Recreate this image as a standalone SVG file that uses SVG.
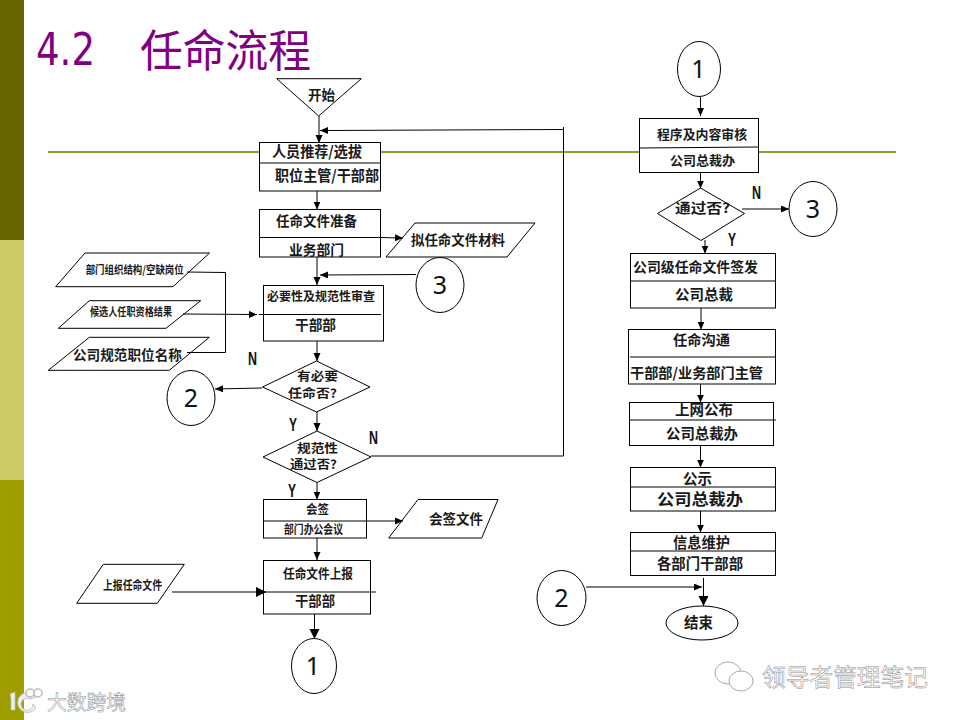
<svg xmlns="http://www.w3.org/2000/svg" width="960" height="720" viewBox="0 0 960 720">
<style>
.s{fill:#fff;stroke:#000;stroke-width:1}
.n{fill:none;stroke:#000;stroke-width:1}
.t{font-family:"Noto Sans CJK SC","Noto Sans",sans-serif;font-weight:700;fill:#1a1a1a;text-anchor:start}
.c{font-family:"Noto Sans","DejaVu Sans",sans-serif;font-size:25px;fill:#111;text-anchor:middle}
.yn{font-family:"Liberation Sans",sans-serif;font-weight:bold;font-size:18px;fill:#111}
.wm{font-family:"Noto Sans CJK SC",sans-serif;fill:#fff;stroke:#888;stroke-width:.5}
.ti{font-size:44px;fill:#800080}
#connectors line,#connectors polyline{fill:none;stroke:#000;stroke-width:1}
</style>
<defs>
<marker id="a" markerUnits="userSpaceOnUse" markerWidth="9" markerHeight="8" refX="8" refY="3.5" orient="auto"><path d="M0 0L8 3.5L0 7Z" fill="#000"/></marker>
<marker id="b" markerUnits="userSpaceOnUse" markerWidth="12" markerHeight="12" refX="10" refY="5" orient="auto"><path d="M0 0L10 5L0 10Z" fill="#000"/></marker>
</defs>
<rect width="960" height="720" fill="#fff"/>
<g id="sidebar">
<rect x="0" y="0" width="24" height="240" fill="#666600"/>
<rect x="0" y="240" width="24" height="240" fill="#cccc66"/>
<rect x="0" y="480" width="24" height="240" fill="#9e9e00"/>
</g>
<g id="title">
<text x="36" y="65" class="ti" style="font-family:'DejaVu Sans',sans-serif" textLength="59" lengthAdjust="spacingAndGlyphs">4.2</text>
<text x="140" y="67" class="ti" style="font-family:'Noto Sans CJK SC',sans-serif" textLength="171" lengthAdjust="spacingAndGlyphs">任命流程</text>
</g>
<line id="rule" x1="48" y1="152" x2="896" y2="152" stroke="#999933" stroke-width="2"/>

<g id="n-start"><polygon class="s" points="276.7,78.7 361.3,78.7 318.7,116"/><text class="t" x="308" y="100" font-size="14" textLength="27" lengthAdjust="spacingAndGlyphs">开始</text></g>

<g id="n-recommend"><rect class="s" x="259.5" y="142.5" width="121" height="48.5"/><line class="n" x1="260" y1="163" x2="380" y2="163"/>
<text class="t" x="272" y="157" font-size="15" textLength="90" lengthAdjust="spacingAndGlyphs">人员推荐/选拔</text>
<text class="t" x="275" y="181" font-size="15" textLength="104" lengthAdjust="spacingAndGlyphs">职位主管/干部部</text></g>

<g id="n-prepare"><rect class="s" x="259.5" y="209.5" width="121" height="47.5"/><line class="n" x1="260" y1="237.5" x2="380" y2="237.5"/>
<text class="t" x="276" y="226" font-size="14" textLength="81" lengthAdjust="spacingAndGlyphs">任命文件准备</text>
<text class="t" x="289" y="255" font-size="14" textLength="55" lengthAdjust="spacingAndGlyphs">业务部门</text></g>

<g id="n-draft"><polygon class="s" points="386,257 415,223 535,223 507,257"/><text class="t" x="411" y="245" font-size="13.5" textLength="94" lengthAdjust="spacingAndGlyphs">拟任命文件材料</text></g>

<g id="n-review"><rect class="s" x="263.5" y="285.5" width="120" height="55.5"/>
<text class="t" x="267" y="301" font-size="12" textLength="108" lengthAdjust="spacingAndGlyphs">必要性及规范性审查</text>
<text class="t" x="295" y="330" font-size="14" textLength="41" lengthAdjust="spacingAndGlyphs">干部部</text></g>

<g id="n-in1"><polygon class="s" points="55.7,286.7 85,253 209.5,253 173,286.7"/><text class="t" x="85.7" y="274" font-size="11" textLength="98" lengthAdjust="spacingAndGlyphs">部门组织结构/空缺岗位</text></g>
<g id="n-in2"><polygon class="s" points="58.3,328.3 89.3,300.7 200.7,300.7 166,328.3"/><text class="t" x="90" y="316" font-size="11.5" textLength="82" lengthAdjust="spacingAndGlyphs">候选人任职资格结果</text></g>
<g id="n-in3"><polygon class="s" points="48.3,370.3 89.3,337.3 209.3,337.3 169.3,370.3"/><text class="t" x="73" y="360" font-size="13.5" textLength="109" lengthAdjust="spacingAndGlyphs">公司规范职位名称</text></g>

<g id="n-need"><polygon class="s" points="262.5,387 316.5,361 370,387 316.5,412"/>
<text class="t" x="297" y="381" font-size="12" textLength="41" lengthAdjust="spacingAndGlyphs">有必要</text>
<text class="t" x="288" y="398" font-size="12" textLength="49" lengthAdjust="spacingAndGlyphs">任命否?</text></g>

<g id="n-pass"><polygon class="s" points="263,457 317,431 371,457 317,482.5"/>
<text class="t" x="297" y="453" font-size="12" textLength="41" lengthAdjust="spacingAndGlyphs">规范性</text>
<text class="t" x="290" y="469" font-size="12" textLength="47" lengthAdjust="spacingAndGlyphs">通过否?</text></g>

<g id="n-sign"><rect class="s" x="263.5" y="499.5" width="103" height="38.5"/>
<text class="t" x="306" y="514" font-size="12" textLength="23" lengthAdjust="spacingAndGlyphs">会签</text>
<text class="t" x="284" y="534" font-size="12" textLength="59" lengthAdjust="spacingAndGlyphs">部门办公会议</text></g>
<g id="n-signdoc"><polygon class="s" points="388.7,538 418,499.5 498,499.5 481.7,538"/><text class="t" x="429" y="524" font-size="13.5" textLength="54" lengthAdjust="spacingAndGlyphs">会签文件</text></g>

<g id="n-report"><rect class="s" x="263.5" y="560.5" width="107" height="53.5"/>
<text class="t" x="283" y="578" font-size="13" textLength="70" lengthAdjust="spacingAndGlyphs">任命文件上报</text>
<text class="t" x="295" y="606" font-size="13.5" textLength="40" lengthAdjust="spacingAndGlyphs">干部部</text></g>
<g id="n-reportdoc"><polygon class="s" points="76.7,603.3 103.3,564.3 184.3,564.3 157.3,603.3"/><text class="t" x="103" y="590" font-size="12" textLength="59" lengthAdjust="spacingAndGlyphs">上报任命文件</text></g>

<g id="n-c1a"><ellipse class="s" cx="314" cy="666" rx="22.5" ry="27.5"/><text class="c" x="313" y="675">1</text></g>
<g id="n-c2a"><ellipse class="s" cx="191" cy="398" rx="24" ry="27.5"/><text class="c" x="191" y="407">2</text></g>
<g id="n-c3a"><ellipse class="s" cx="440" cy="285" rx="24" ry="27.5"/><text class="c" x="440" y="294">3</text></g>

<g id="n-c1b"><ellipse class="s" cx="699" cy="69" rx="21.5" ry="27.5"/><text class="c" x="698.5" y="78">1</text></g>
<g id="n-audit"><rect class="s" x="639.5" y="118.5" width="119" height="54"/><line class="n" x1="640" y1="148" x2="758" y2="147"/>
<text class="t" x="657" y="139" font-size="13" textLength="90" lengthAdjust="spacingAndGlyphs">程序及内容审核</text>
<text class="t" x="670" y="165" font-size="13" textLength="65" lengthAdjust="spacingAndGlyphs">公司总裁办</text></g>
<g id="n-passb"><polygon class="s" points="657.5,213.5 700.5,188 744.5,213.5 701,240.5"/><text class="t" x="675" y="213" font-size="13.7" textLength="55" lengthAdjust="spacingAndGlyphs">通过否?</text></g>
<g id="n-c3b"><ellipse class="s" cx="813" cy="209" rx="24" ry="27.5"/><text class="c" x="813" y="218">3</text></g>
<g id="n-issue"><rect class="s" x="630.5" y="253.5" width="145" height="54.5"/><line class="n" x1="631" y1="281" x2="775" y2="281"/>
<text class="t" x="633" y="272" font-size="14" textLength="125" lengthAdjust="spacingAndGlyphs">公司级任命文件签发</text>
<text class="t" x="675" y="300" font-size="14.5" textLength="58" lengthAdjust="spacingAndGlyphs">公司总裁</text></g>
<g id="n-talk"><rect class="s" x="628.5" y="329.5" width="147" height="54.5"/><line class="n" x1="630" y1="357" x2="775" y2="357"/>
<text class="t" x="673" y="345" font-size="14" textLength="57" lengthAdjust="spacingAndGlyphs">任命沟通</text>
<text class="t" x="630" y="378" font-size="14" textLength="133" lengthAdjust="spacingAndGlyphs">干部部/业务部门主管</text></g>
<g id="n-web"><rect class="s" x="629.5" y="402.5" width="144" height="43"/><line class="n" x1="630" y1="420" x2="776" y2="420"/>
<text class="t" x="675" y="415" font-size="14.5" textLength="58" lengthAdjust="spacingAndGlyphs">上网公布</text>
<text class="t" x="666" y="439" font-size="14.5" textLength="72" lengthAdjust="spacingAndGlyphs">公司总裁办</text></g>
<g id="n-show"><rect class="s" x="630.5" y="467.5" width="145" height="43.5"/><line class="n" x1="631" y1="487" x2="775" y2="487"/>
<text class="t" x="683" y="484" font-size="15" textLength="29" lengthAdjust="spacingAndGlyphs">公示</text>
<text class="t" x="657" y="505" font-size="16" textLength="86" lengthAdjust="spacingAndGlyphs">公司总裁办</text></g>
<g id="n-info"><rect class="s" x="630.5" y="532.5" width="145" height="43"/><line class="n" x1="631" y1="551" x2="775" y2="551"/>
<text class="t" x="673" y="548" font-size="14.5" textLength="57" lengthAdjust="spacingAndGlyphs">信息维护</text>
<text class="t" x="657" y="569" font-size="14.5" textLength="86" lengthAdjust="spacingAndGlyphs">各部门干部部</text></g>
<g id="n-c2b"><ellipse class="s" cx="561.5" cy="598" rx="24.5" ry="27.5"/><text class="c" x="561.5" y="607">2</text></g>
<g id="n-end"><ellipse class="s" cx="702" cy="623" rx="36" ry="17"/><text class="t" x="684" y="628" font-size="14.5" textLength="29" lengthAdjust="spacingAndGlyphs">结束</text></g>

<g id="connectors">
<line x1="319" y1="116" x2="319" y2="143" marker-end="url(#a)"/>
<polyline points="371,456 563.5,456 563.5,127"/>
<line x1="563.5" y1="129.5" x2="320" y2="130.5" marker-end="url(#a)"/>
<line x1="317" y1="191" x2="317" y2="209.5" marker-end="url(#a)"/>
<line x1="317" y1="257" x2="317" y2="285" marker-end="url(#a)"/>
<line x1="380" y1="237.5" x2="403" y2="238" marker-end="url(#a)"/>
<line x1="416" y1="274.5" x2="320" y2="275" marker-end="url(#a)"/>
<line x1="317" y1="341" x2="317" y2="361" marker-end="url(#a)"/>
<line x1="262" y1="388" x2="215" y2="389" marker-end="url(#a)"/>
<line x1="317" y1="412" x2="317" y2="431" marker-end="url(#a)"/>
<line x1="317" y1="483" x2="317" y2="499.5" marker-end="url(#a)"/>
<line x1="317" y1="538" x2="317" y2="560" marker-end="url(#a)"/>
<polyline points="187,272 225.5,272.5 225.5,352.5 187,352.5"/>
<line x1="183" y1="314" x2="257" y2="314.5" marker-end="url(#a)"/>
<line x1="259" y1="314.5" x2="381" y2="314.5"/>
<line x1="264" y1="521" x2="403" y2="521" marker-end="url(#a)"/>
<line x1="172" y1="592" x2="266" y2="592" marker-end="url(#b)"/>
<line x1="264" y1="592" x2="376" y2="592"/>
<line x1="314.5" y1="614" x2="314.5" y2="639" marker-end="url(#b)"/>
<line x1="700.5" y1="97" x2="700.5" y2="116" marker-end="url(#a)"/>
<line x1="700.5" y1="172.5" x2="700.5" y2="188.5" marker-end="url(#a)"/>
<line x1="742" y1="209" x2="789" y2="209" marker-end="url(#a)"/>
<line x1="705" y1="240" x2="705" y2="253.5" marker-end="url(#a)"/>
<line x1="701" y1="308" x2="701" y2="329.5" marker-end="url(#a)"/>
<line x1="700.5" y1="384" x2="700.5" y2="402.5" marker-end="url(#a)"/>
<line x1="700.5" y1="445.5" x2="700.5" y2="467.5" marker-end="url(#a)"/>
<line x1="700.5" y1="511" x2="700.5" y2="532.5" marker-end="url(#a)"/>
<line x1="586" y1="587" x2="702" y2="587" marker-end="url(#a)"/>
<line x1="703.5" y1="578" x2="703.5" y2="606" marker-end="url(#b)"/>
</g>

<g id="labels">
<text class="yn" x="248" y="365" textLength="9" lengthAdjust="spacingAndGlyphs">N</text>
<text class="yn" x="289" y="431" textLength="8" lengthAdjust="spacingAndGlyphs">Y</text>
<text class="yn" x="369" y="444" textLength="9" lengthAdjust="spacingAndGlyphs">N</text>
<text class="yn" x="288" y="497" textLength="8" lengthAdjust="spacingAndGlyphs">Y</text>
<text class="yn" x="752" y="199" textLength="9" lengthAdjust="spacingAndGlyphs">N</text>
<text class="yn" x="728" y="246" textLength="8" lengthAdjust="spacingAndGlyphs">Y</text>
</g>

<g id="watermarks">
<path d="M10 694L15 692V710H11V698ZM36 697A10 10 0 1 0 36 708L33 704A6 6 0 1 1 30 699Z" fill="#eee" stroke="#bbb" stroke-width=".8"/>
<circle cx="30" cy="693" r="4" fill="#fff" stroke="#bbb" stroke-width="1.5"/>
<circle cx="38" cy="693" r="4" fill="#fff" stroke="#bbb" stroke-width="1.5"/>
<text class="wm" x="47" y="710" font-size="20" textLength="79" lengthAdjust="spacingAndGlyphs">大数跨境</text>
<ellipse cx="728" cy="673" rx="13" ry="11" fill="#fff" stroke="#aaa"/>
<ellipse cx="741" cy="681" rx="12" ry="10" fill="#fff" stroke="#aaa"/>
<text class="wm" x="762" y="686" font-size="24" textLength="166" lengthAdjust="spacingAndGlyphs">领导者管理笔记</text>
</g>
</svg>
